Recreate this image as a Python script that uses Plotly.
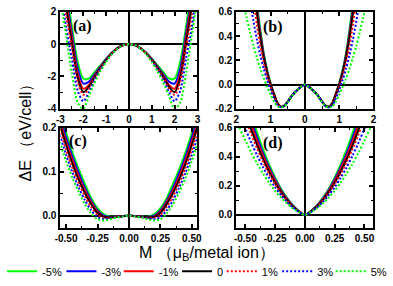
import numpy as np
import plotly.graph_objects as go

# ---------------- data (M >= 0 half; curves are symmetric) ----------------
strain_labels = ['-5%', '-3%', '-1%', '0', '1%', '3%', '5%']
colors = ['#00ff00', '#0000ff', '#ff0000', '#000000', '#ff0000', '#0000ff', '#00ff00']
dashes = ['solid', 'solid', 'solid', 'solid', '2px,2px', '2px,2px', '2px,2px']

# panel (a)
M_a = [0, 0.25, 0.5, 0.75, 1.0, 1.25, 1.5, 1.75, 2.0, 2.25, 2.5, 2.75, 3.0]
E_a = [
    [0, -0.06, -0.24, -0.53, -0.90, -1.32, -1.72, -2.12, -2.12, -1.05, 1.10, 3.50, 7.0],   # -5%
    [0, -0.06, -0.24, -0.54, -0.93, -1.38, -1.85, -2.32, -2.44, -1.45, 0.70, 3.00, 6.5],   # -3%
    [0, -0.06, -0.25, -0.55, -0.96, -1.43, -1.95, -2.52, -2.76, -1.80, 0.40, 2.70, 6.0],   # -1%
    [0, -0.06, -0.25, -0.56, -0.98, -1.47, -2.02, -2.64, -2.97, -2.05, 0.10, 2.30, 5.0],   # 0
    [0, -0.06, -0.25, -0.57, -1.00, -1.50, -2.08, -2.74, -3.13, -2.30, -0.20, 1.80, 4.4],  # 1%
    [0, -0.06, -0.26, -0.59, -1.04, -1.58, -2.22, -2.96, -3.53, -2.85, -0.90, 1.00, 3.6],  # 3%
    [0, -0.06, -0.27, -0.62, -1.10, -1.68, -2.38, -3.20, -4.00, -3.60, -1.80, 0.50, 2.9],  # 5%
]

# panel (b)
M_b = [0, 0.1, 0.2, 0.3, 0.4, 0.5, 0.6, 0.7, 0.8, 0.9, 1.0, 1.1, 1.2, 1.3, 1.4, 1.5, 1.6, 1.7, 1.8, 1.9, 2.0]
E_b = [
    [0, -.015, -.04, -.065, -.10, -.14, -.172, -.182, -.150, -.075, .010, .12, .26, .45, .68, .95],
    [0, -.015, -.04, -.065, -.10, -.14, -.173, -.183, -.152, -.078, .005, .11, .245, .425, .645, .90],
    [0, -.015, -.04, -.065, -.10, -.14, -.174, -.184, -.154, -.080, .000, .10, .23, .405, .615, .86],
    [0, -.015, -.04, -.065, -.10, -.14, -.175, -.185, -.156, -.083, -.005, .095, .22, .385, .585, .82],
    [0, -.015, -.04, -.066, -.10, -.142, -.176, -.186, -.160, -.095, -.020, .07, .18, .32, .49, .70, .95],
    [0, -.015, -.04, -.066, -.101, -.143, -.177, -.188, -.170, -.115, -.045, .035, .13, .24, .37, .52, .70, .90],
    [0, -.015, -.04, -.067, -.102, -.145, -.178, -.190, -.180, -.140, -.085, -.02, .05, .13, .22, .32, .43, .55, .68, .82],
]

# panel (c)
M_c = [0, 0.05, 0.1, 0.15, 0.2, 0.25, 0.3, 0.35, 0.4, 0.45, 0.5, 0.55]
E_c = [
    [0, -0.0005, -0.0015, -0.002, 0.003, 0.017, 0.040, 0.072, 0.106, 0.144, 0.188, 0.235],
    [0, -0.0007, -0.002, -0.003, 0.000, 0.012, 0.034, 0.063, 0.097, 0.135, 0.178, 0.225],
    [0, -0.001, -0.002, -0.004, -0.002, 0.009, 0.030, 0.057, 0.089, 0.126, 0.168, 0.215],
    [0, -0.001, -0.0025, -0.004, -0.003, 0.006, 0.026, 0.051, 0.082, 0.118, 0.160, 0.208],
    [0, -0.001, -0.003, -0.005, -0.005, 0.002, 0.020, 0.044, 0.074, 0.109, 0.150, 0.197],
    [0, -0.001, -0.003, -0.006, -0.008, -0.003, 0.012, 0.035, 0.064, 0.098, 0.138, 0.183],
    [0, -0.0015, -0.004, -0.008, -0.011, -0.008, 0.005, 0.026, 0.054, 0.086, 0.124, 0.168],
]

# panel (d)
M_d = [0, 0.05, 0.1, 0.15, 0.2, 0.25, 0.3, 0.35, 0.4, 0.45, 0.5, 0.55, 0.6]
E_d = [
    [0, .027, .066, .118, .180, .258, .347, .449, .562, .687, .83],
    [0, .025, .063, .112, .172, .245, .328, .423, .531, .650, .78],
    [0, .024, .060, .107, .165, .233, .314, .404, .506, .620, .74],
    [0, .023, .058, .102, .157, .221, .297, .382, .478, .584, .70, .83],
    [0, .023, .055, .098, .150, .212, .283, .364, .455, .555, .665, .785],
    [0, .021, .051, .089, .136, .190, .255, .326, .408, .497, .595, .70, .815],
    [0, .019, .045, .079, .120, .166, .221, .284, .352, .428, .513, .60, .70],
]

# tick labels
xt_a = [-3, -2, -1, 0, 1, 2, 3]; xl_a = ['-3', '-2', '-1', '0', '1', '2', '3']
yt_a = [-4, -2, 0, 2];           yl_a = ['-4', '-2', '0', '2']
xt_b = [-2, -1, 0, 1, 2];        xl_b = ['2', '1', '0', '1', '2']
yt_b = [-0.2, 0, 0.2, 0.4, 0.6]; yl_b = ['-0.2', '0.0', '0.2', '0.4', '0.6']
xt_cd = [-0.5, -0.25, 0, 0.25, 0.5]; xl_cd = ['-0.50', '-0.25', '0.00', '0.25', '0.50']
yt_c = [0, 0.1, 0.2];            yl_c = ['0.0', '0.1', '0.2']
yt_d = [0, 0.2, 0.4, 0.6];       yl_d = ['0.0', '0.2', '0.4', '0.6']


def mirror(M, E):
    M = np.asarray(M[:len(E)], float)
    E = np.asarray(E, float)
    return np.concatenate([-M[::-1], M[1:]]), np.concatenate([E[::-1], E[1:]])


fig = go.Figure()
panels = [(M_a, E_a, 'x', 'y'), (M_b, E_b, 'x2', 'y2'), (M_c, E_c, 'x3', 'y3'), (M_d, E_d, 'x4', 'y4')]
for p, (M, E, xa, ya) in enumerate(panels):
    for i, lab in enumerate(strain_labels):
        xs, ys = mirror(M, E[i])
        fig.add_trace(go.Scatter(
            x=xs, y=ys, mode='lines', name=lab, xaxis=xa, yaxis=ya,
            line=dict(color=colors[i], width=2, dash=dashes[i], shape='spline', smoothing=0.8),
            showlegend=(p == 0), legend=('legend' if i == 0 else 'legend%d' % (i + 1)),
        ))

W, H = 393, 286
fx = lambda px: px / W
fy = lambda py: 1 - py / H

tickfont = dict(family='Liberation Sans, Arial', size=10, color='black', weight='bold')


def axis(domain, rng, tv, tt, minor_dt):
    return dict(domain=domain, range=rng, tickmode='array', tickvals=tv, ticktext=tt,
                ticks='inside', ticklen=4, tickwidth=1.5, tickcolor='black',
                showline=True, linewidth=2, linecolor='black', mirror='allticks',
                showgrid=False, zeroline=True, zerolinecolor='black', zerolinewidth=2,
                tickfont=tickfont, fixedrange=True,
                minor=dict(dtick=minor_dt, tick0=0, ticks='inside', ticklen=2.5,
                           tickwidth=1, tickcolor='black', showgrid=False))


xl = [fx(56), fx(197)]
xr = [fx(237), fx(378)]
yt = [fy(108), fy(7)]
yb = [fy(232), fy(127.5)]

fig.update_layout(
    width=W, height=H, margin=dict(l=0, r=0, t=0, b=0),
    paper_bgcolor='white', plot_bgcolor='white',
    xaxis=dict(axis(xl, [-3, 3], xt_a, xl_a, 0.5), anchor='y'),
    yaxis=dict(axis(yt, [-4, 2], yt_a, yl_a, 1), anchor='x'),
    xaxis2=dict(axis(xr, [-2, 2], xt_b, xl_b, 0.5), anchor='y2'),
    yaxis2=dict(axis(yt, [-0.2, 0.6], yt_b, yl_b, 0.1), anchor='x2'),
    xaxis3=dict(axis(xl, [-0.545, 0.545], xt_cd, xl_cd, 0.125), anchor='y3'),
    yaxis3=dict(axis(yb, [-0.028, 0.2], yt_c, yl_c, 0.05), anchor='x3'),
    xaxis4=dict(axis(xr, [-0.575, 0.575], xt_cd, xl_cd, 0.125), anchor='y4'),
    yaxis4=dict(axis(yb, [-0.09, 0.6], yt_d, yl_d, 0.1), anchor='x4'),
)

# legends (one per entry so they fit on one row)
leg_px = [-4, 57, 116, 176, 222, 279, 334]
for i, px in enumerate(leg_px):
    key = 'legend' if i == 0 else 'legend%d' % (i + 1)
    fig.update_layout({key: dict(x=fx(px), y=fy(277), xanchor='left', yanchor='middle',
                                 orientation='h', bgcolor='rgba(0,0,0,0)', borderwidth=0,
                                 font=dict(family='Liberation Sans, Arial', size=11, color='black'),
                                 itemwidth=30, itemclick=False, itemdoubleclick=False)})

# panel labels
lab_font = dict(family='Liberation Serif, Times New Roman', size=16, color='black', weight='bold')
for txt, px, py in [('(a)', 67, 22), ('(b)', 262, 23), ('(c)', 63, 141), ('(d)', 262, 143)]:
    fig.add_annotation(text=txt, x=fx(px), y=fy(py), xref='paper', yref='paper',
                       xanchor='left', yanchor='middle', showarrow=False, font=lab_font)

# axis titles
fig.add_annotation(text='M （μ<sub>B</sub>/metal ion）', x=fx(207), y=fy(258), xref='paper', yref='paper',
                   xanchor='center', yanchor='middle', showarrow=False,
                   font=dict(family='Liberation Sans, Arial', size=16, color='black'))
fig.add_annotation(text='ΔE （eV/cell）', x=fx(20), y=fy(128), xref='paper', yref='paper',
                   xanchor='center', yanchor='middle', showarrow=False, textangle=-90,
                   font=dict(family='Liberation Sans, Arial', size=16, color='black'))

fig.write_html('out.html', config={'displayModeBar': False},
               post_script="document.body.style.margin='0';document.body.style.overflow='hidden';")
